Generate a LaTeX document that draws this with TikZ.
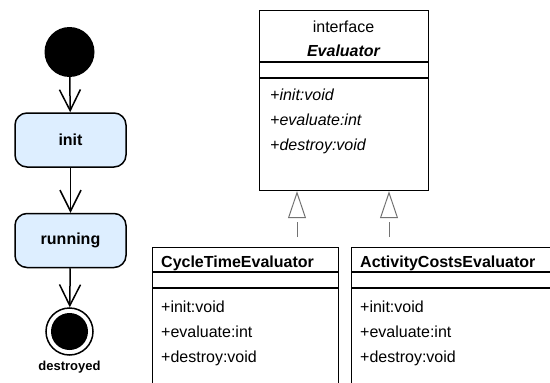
\documentclass[tikz,border=0pt]{standalone}
\usepackage{fontspec}
\setmainfont{Liberation Sans}
\usetikzlibrary{arrows.meta}

\definecolor{statefill}{RGB}{221,238,255}

\begin{document}
\begin{tikzpicture}[
		x=1pt, y=-1pt,
		every node/.style={font=\fontsize{16}{18}\selectfont},
		state/.style={rectangle, rounded corners=12pt, draw, line width=1.5pt, fill=statefill,
			minimum width=111pt, minimum height=54pt, font=\fontsize{16}{18}\selectfont\bfseries},
		flow/.style={line width=1.5pt, -{Straight Barb[length=21pt, width=21pt]}},
		classbox/.style={rectangle, draw, line width=1.2pt, anchor=north west, inner sep=0pt},
		member/.style={anchor=base west, inner sep=0pt},
		realize/.style={black!55, line width=1pt, dash pattern=on 15pt off 15pt, dash phase=20pt,
			-{Triangle[open, length=27pt, width=18pt]}}
	]
  \useasboundingbox (0,0) rectangle (550,383);
  \clip (0,0) rectangle (550,383);

  \node (start) [circle, fill=black, minimum size=50pt, inner sep=0pt] at (69.5,52) {};
  \node (init) [state] at (70.5,140) {init};
  \node (running) [state] at (70.5,240.5) {running};
  \node (end) [circle, draw, line width=1.5pt, fill=white, minimum size=47pt, inner sep=0pt,
    label={[font=\fontsize{13}{15}\selectfont\bfseries, inner sep=0pt, label distance=5pt]below:destroyed}] at (69.5,331.5) {};
  \node (end_dot) [circle, fill=black, minimum size=37pt, inner sep=0pt] at (end) {};
  \draw[flow] (start) -- (init);
  \draw[flow] (init) -- (running);
  \draw[flow] (running) -- (end);

  \node (evaluator) [classbox, minimum width=169pt, minimum height=180pt] at (259,10) {};
  \draw[line width=1.2pt] (evaluator.west |- 0,62) -- (evaluator.east |- 0,62);
  \draw[line width=1.2pt] (evaluator.west |- 0,78) -- (evaluator.east |- 0,78);
  \node (ev_stereo) [anchor=base, inner sep=0pt] at (343.5,32) {interface};
  \node (ev_name) [anchor=base, inner sep=0pt] at (343.5,56) {\bfseries\itshape Evaluator};
  \node (ev_init) [member] at (270,100) {\itshape +init:void};
  \node (ev_eval) [member] at (270,125) {\itshape +evaluate:int};
  \node (ev_destroy) [member] at (270,150) {\itshape +destroy:void};

  \node (cte) [classbox, minimum width=186pt, minimum height=160pt] at (152,247) {};
  \draw[line width=1.2pt] (cte.west |- 0,272) -- (cte.east |- 0,272);
  \draw[line width=1.2pt] (cte.west |- 0,288) -- (cte.east |- 0,288);
  \node (cte_name) [member] at (161,267) {\bfseries CycleTimeEvaluator};
  \node (cte_init) [member] at (161,312) {+init:void};
  \node (cte_eval) [member] at (161,337) {+evaluate:int};
  \node (cte_destroy) [member] at (161,362) {+destroy:void};

  \node (ace) [classbox, minimum width=210pt, minimum height=160pt] at (351,247) {};
  \draw[line width=1.2pt] (ace.west |- 0,272) -- (ace.east |- 0,272);
  \draw[line width=1.2pt] (ace.west |- 0,288) -- (ace.east |- 0,288);
  \node (ace_name) [member] at (360,267) {\bfseries ActivityCostsEvaluator};
  \node (ace_init) [member] at (360,312) {+init:void};
  \node (ace_eval) [member] at (360,337) {+evaluate:int};
  \node (ace_destroy) [member] at (360,362) {+destroy:void};

  \coordinate (cte_top) at (297,247);
  \coordinate (ace_top) at (389,247);
  \draw[realize] (cte_top) -- (cte_top |- evaluator.south);
  \draw[realize] (ace_top) -- (ace_top |- evaluator.south);
\end{tikzpicture}
\end{document}
